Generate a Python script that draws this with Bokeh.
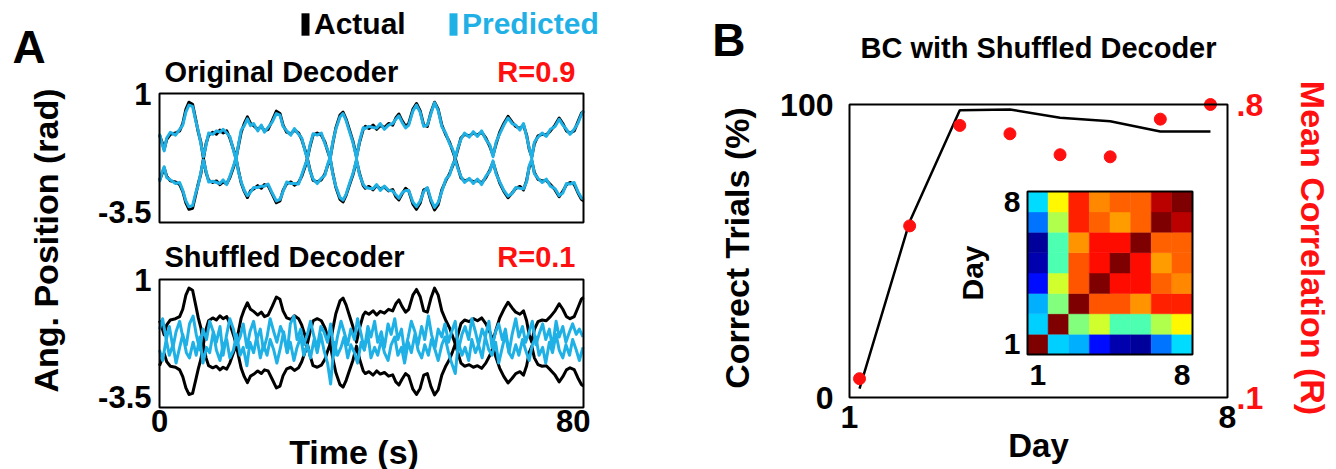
import math
from bokeh.plotting import figure
from bokeh.layouts import row, column
from bokeh.models import (Range1d, LinearAxis, FixedTicker, LinearColorMapper,
                          ColumnDataSource, Legend, LegendItem)
from bokeh.core.properties import value
from bokeh.transform import transform
from bokeh.embed import file_html
from bokeh.resources import INLINE

FONT = "Liberation Sans"
BLUE = "#1fb1e6"
RED = "#ff1010"

# ---------------- Panel A data (time s, angular position rad) ----------------
time_lim = [0.0, 82.0]
pos_lim = [-3.9, 1.0]
time_ticks = [0, 80]
pos_ticks = [-3.5, 1]

actual_upper = [(0.0,-0.58),(0.5,-0.85),(0.9,-1.12),(1.4,-0.74),(2.1,-0.55),(3.1,-0.50),(3.9,-0.42),(4.5,-0.14),(5.1,0.40),(5.7,0.67),(6.4,0.59),(7.0,0.02),(7.5,-0.47),(8.0,-0.85),(8.5,-1.47),(9.0,-0.91),(9.5,-0.58),(10.3,-0.47),(11.0,-0.55),(11.7,-0.39),(12.3,-0.50),(13.0,-0.42),(13.6,-0.69),(14.4,-1.18),(14.8,-1.47),(15.3,-0.96),(15.8,-0.47),(16.4,-0.14),(17.0,0.11),(17.6,-0.14),(18.2,-0.22),(19.0,-0.36),(19.7,-0.25),(20.3,-0.42),(21.0,-0.36),(21.8,-0.03),(22.6,0.33),(23.3,0.24),(23.9,-0.20),(24.6,-0.47),(25.4,-0.53),(26.1,-0.39),(26.9,-0.50),(27.5,-0.74),(28.2,-1.18),(28.6,-1.47),(29.1,-1.02),(29.7,-0.58),(30.5,-0.50),(31.3,-0.58),(32.0,-0.85),(32.5,-1.18),(33.0,-1.47),(33.5,-0.91),(34.1,-0.31),(34.9,0.18),(35.5,0.29),(36.1,0.02),(36.7,-0.36),(37.4,-0.80),(38.1,-1.40),(38.7,-0.85),(39.4,-0.36),(39.8,-0.25),(40.5,-0.33),(41.3,-0.20),(42.0,-0.36),(42.7,-0.22),(43.5,-0.29),(44.3,-0.14),(45.1,-0.20),(45.7,0.07),(46.3,0.22),(46.9,-0.03),(47.6,-0.25),(48.2,-0.14),(49.0,0.40),(49.7,0.62),(50.4,0.35),(51.1,-0.20),(51.8,-0.25),(52.5,0.29),(53.2,0.67),(53.9,0.40),(54.6,-0.20),(55.4,-0.58),(56.1,-0.85),(56.7,-1.18),(57.2,-1.47),(57.7,-1.12),(58.3,-0.69),(59.0,-0.55),(59.9,-0.61),(60.7,-0.50),(61.5,-0.58),(62.3,-0.47),(63.1,-0.69),(63.9,-1.02),(64.5,-1.34),(65.1,-0.91),(65.8,-0.47),(66.6,-0.14),(67.4,0.13),(68.2,-0.09),(68.9,-0.25),(69.7,-0.33),(70.4,-0.20),(71.0,-0.58),(71.5,-1.12),(72.0,-1.40),(72.5,-0.91),(73.2,-0.61),(74.0,-0.55),(74.8,-0.58),(75.6,-0.42),(76.5,-0.20),(77.3,0.07),(78.0,-0.14),(78.7,-0.42),(79.4,-0.50),(80.2,-0.42),(80.9,-0.09),(81.6,0.25),(82.0,0.32)]

actual_lower = [(0.0,-2.30),(0.5,-2.05),(0.9,-1.83),(1.4,-2.15),(2.1,-2.32),(3.1,-2.36),(3.9,-2.46),(4.5,-2.72),(5.1,-3.15),(5.7,-3.40),(6.4,-3.36),(7.0,-2.85),(7.5,-2.42),(8.0,-2.05),(8.5,-1.47),(9.0,-2.00),(9.5,-2.30),(10.3,-2.38),(11.0,-2.32),(11.7,-2.46),(12.3,-2.36),(13.0,-2.43),(13.6,-2.20),(14.4,-1.75),(14.8,-1.47),(15.3,-1.95),(15.8,-2.40),(16.4,-2.72),(17.0,-2.95),(17.6,-2.70),(18.2,-2.63),(19.0,-2.50),(19.7,-2.60),(20.3,-2.46),(21.0,-2.50),(21.8,-2.82),(22.6,-3.15),(23.3,-3.08),(23.9,-2.68),(24.6,-2.42),(25.4,-2.36),(26.1,-2.48),(26.9,-2.38),(27.5,-2.15),(28.2,-1.75),(28.6,-1.47),(29.1,-1.90),(29.7,-2.30),(30.5,-2.36),(31.3,-2.28),(32.0,-2.05),(32.5,-1.75),(33.0,-1.47),(33.5,-2.00),(34.1,-2.56),(34.9,-3.02),(35.5,-3.12),(36.1,-2.86),(36.7,-2.50),(37.4,-2.10),(38.1,-1.55),(38.7,-2.05),(39.4,-2.50),(39.8,-2.60),(40.5,-2.53),(41.3,-2.66),(42.0,-2.50),(42.7,-2.62),(43.5,-2.56),(44.3,-2.70),(45.1,-2.65),(45.7,-2.92),(46.3,-3.04),(46.9,-2.82),(47.6,-2.60),(48.2,-2.70),(49.0,-3.20),(49.7,-3.40),(50.4,-3.17),(51.1,-2.66),(51.8,-2.60),(52.5,-3.10),(53.2,-3.42),(53.9,-3.22),(54.6,-2.66),(55.4,-2.30),(56.1,-2.05),(56.7,-1.75),(57.2,-1.47),(57.7,-1.80),(58.3,-2.20),(59.0,-2.32),(59.9,-2.26),(60.7,-2.36),(61.5,-2.30),(62.3,-2.40),(63.1,-2.20),(63.9,-1.90),(64.5,-1.61),(65.1,-2.00),(65.8,-2.40),(66.6,-2.72),(67.4,-2.96),(68.2,-2.78),(68.9,-2.60),(69.7,-2.53),(70.4,-2.66),(71.0,-2.30),(71.5,-1.80),(72.0,-1.56),(72.5,-2.00),(73.2,-2.26),(74.0,-2.32),(74.8,-2.30),(75.6,-2.46),(76.5,-2.66),(77.3,-2.92),(78.0,-2.72),(78.7,-2.46),(79.4,-2.38),(80.2,-2.45),(80.9,-2.76),(81.6,-3.02),(82.0,-3.08)]

pred_orig_upper = [(0.0,-0.53),(0.5,-0.91),(0.9,-1.18),(1.4,-0.69),(2.1,-0.47),(3.1,-0.58),(3.9,-0.36),(4.5,-0.20),(5.1,0.29),(5.7,0.56),(6.4,0.51),(7.0,-0.03),(7.5,-0.42),(8.0,-0.91),(8.5,-1.40),(9.0,-0.96),(9.5,-0.50),(10.3,-0.55),(11.0,-0.42),(11.7,-0.47),(12.3,-0.36),(13.0,-0.50),(13.6,-0.63),(14.4,-1.23),(14.8,-1.50),(15.3,-0.91),(15.8,-0.39),(16.4,-0.22),(17.0,0.04),(17.6,-0.22),(18.2,-0.14),(19.0,-0.42),(19.7,-0.20),(20.3,-0.47),(21.0,-0.29),(21.8,-0.09),(22.6,0.24),(23.3,0.18),(23.9,-0.25),(24.6,-0.42),(25.4,-0.58),(26.1,-0.33),(26.9,-0.55),(27.5,-0.69),(28.2,-1.23),(28.6,-1.45),(29.1,-0.96),(29.7,-0.53),(30.5,-0.58),(31.3,-0.50),(32.0,-0.91),(32.5,-1.12),(33.0,-1.50),(33.5,-0.85),(34.1,-0.36),(34.9,0.11),(35.5,0.24),(36.1,-0.03),(36.7,-0.42),(37.4,-0.85),(38.1,-1.45),(38.7,-0.80),(39.4,-0.30),(39.8,-0.33),(40.5,-0.25),(41.3,-0.29),(42.0,-0.31),(42.7,-0.14),(43.5,-0.36),(44.3,-0.20),(45.1,-0.14),(45.7,0.02),(46.3,0.15),(46.9,-0.09),(47.6,-0.31),(48.2,-0.20),(49.0,0.33),(49.7,0.56),(50.4,0.29),(51.1,-0.25),(51.8,-0.20),(52.5,0.24),(53.2,0.65),(53.9,0.35),(54.6,-0.25),(55.4,-0.53),(56.1,-0.91),(56.7,-1.12),(57.2,-1.45),(57.7,-1.07),(58.3,-0.74),(59.0,-0.50),(59.9,-0.66),(60.7,-0.45),(61.5,-0.63),(62.3,-0.42),(63.1,-0.74),(63.9,-0.96),(64.5,-1.40),(65.1,-0.85),(65.8,-0.53),(66.6,-0.20),(67.4,0.07),(68.2,-0.14),(68.9,-0.20),(69.7,-0.39),(70.4,-0.14),(71.0,-0.63),(71.5,-1.07),(72.0,-1.45),(72.5,-0.85),(73.2,-0.66),(74.0,-0.50),(74.8,-0.63),(75.6,-0.36),(76.5,-0.25),(77.3,0.02),(78.0,-0.20),(78.7,-0.36),(79.4,-0.55),(80.2,-0.36),(80.9,-0.14),(81.6,0.20),(82.0,0.35)]

pred_orig_lower = [(0.0,-2.36),(0.5,-2.00),(0.9,-1.78),(1.4,-2.20),(2.1,-2.28),(3.1,-2.42),(3.9,-2.38),(4.5,-2.68),(5.1,-3.08),(5.7,-3.30),(6.4,-3.26),(7.0,-2.78),(7.5,-2.47),(8.0,-2.00),(8.5,-1.53),(9.0,-1.95),(9.5,-2.36),(10.3,-2.33),(11.0,-2.38),(11.7,-2.42),(12.3,-2.28),(13.0,-2.46),(13.6,-2.15),(14.4,-1.70),(14.8,-1.42),(15.3,-2.00),(15.8,-2.36),(16.4,-2.68),(17.0,-2.88),(17.6,-2.75),(18.2,-2.57),(19.0,-2.57),(19.7,-2.52),(20.3,-2.52),(21.0,-2.44),(21.8,-2.78),(22.6,-3.08),(23.3,-3.02),(23.9,-2.72),(24.6,-2.36),(25.4,-2.42),(26.1,-2.42),(26.9,-2.44),(27.5,-2.10),(28.2,-1.70),(28.6,-1.50),(29.1,-1.95),(29.7,-2.25),(30.5,-2.42),(31.3,-2.22),(32.0,-2.10),(32.5,-1.70),(33.0,-1.42),(33.5,-2.05),(34.1,-2.52),(34.9,-2.95),(35.5,-3.05),(36.1,-2.82),(36.7,-2.45),(37.4,-2.05),(38.1,-1.50),(38.7,-2.10),(39.4,-2.45),(39.8,-2.56),(40.5,-2.60),(41.3,-2.62),(42.0,-2.46),(42.7,-2.68),(43.5,-2.52),(44.3,-2.68),(45.1,-2.70),(45.7,-2.85),(46.3,-2.98),(46.9,-2.78),(47.6,-2.68),(48.2,-2.68),(49.0,-3.12),(49.7,-3.30),(50.4,-3.10),(51.1,-2.72),(51.8,-2.57),(52.5,-3.03),(53.2,-3.33),(53.9,-3.14),(54.6,-2.72),(55.4,-2.25),(56.1,-2.10),(56.7,-1.70),(57.2,-1.53),(57.7,-1.85),(58.3,-2.15),(59.0,-2.38),(59.9,-2.22),(60.7,-2.42),(61.5,-2.25),(62.3,-2.46),(63.1,-2.15),(63.9,-1.95),(64.5,-1.56),(65.1,-2.05),(65.8,-2.36),(66.6,-2.68),(67.4,-2.90),(68.2,-2.80),(68.9,-2.57),(69.7,-2.60),(70.4,-2.62),(71.0,-2.36),(71.5,-1.75),(72.0,-1.50),(72.5,-2.05),(73.2,-2.22),(74.0,-2.38),(74.8,-2.25),(75.6,-2.52),(76.5,-2.62),(77.3,-2.88),(78.0,-2.78),(78.7,-2.42),(79.4,-2.44),(80.2,-2.38),(80.9,-2.72),(81.6,-2.96),(82.0,-3.02)]

t_shuf = [0.0, 0.6, 1.3, 1.9, 2.6, 3.2, 3.9, 4.5, 5.2, 5.8,
          6.5, 7.1, 7.8, 8.4, 9.1, 9.7, 10.4, 11.0, 11.7, 12.3,
          13.0, 13.6, 14.3, 14.9, 15.6, 16.2, 16.9, 17.5, 18.2, 18.8,
          19.5, 20.1, 20.8, 21.4, 22.1, 22.7, 23.4, 24.0, 24.7, 25.3,
          26.0, 26.6, 27.3, 27.9, 28.6, 29.2, 29.9, 30.5, 31.2, 31.8,
          32.5, 33.1, 33.8, 34.4, 35.1, 35.7, 36.4, 37.0, 37.7, 38.3,
          39.0, 39.6, 40.3, 40.9, 41.6, 42.2, 42.9, 43.5, 44.2, 44.8,
          45.5, 46.1, 46.8, 47.4, 48.1, 48.7, 49.4, 50.0, 50.7, 51.3,
          52.0, 52.6, 53.3, 53.9, 54.6, 55.2, 55.9, 56.5, 57.2, 57.8,
          58.5, 59.1, 59.8, 60.4, 61.1, 61.7, 62.4, 63.0, 63.7, 64.3,
          65.0, 65.6, 66.3, 66.9, 67.6, 68.2, 68.9, 69.5, 70.2, 70.8,
          71.5, 72.1, 72.8, 73.4, 74.1, 74.7, 75.4, 76.0, 76.7, 77.3,
          78.0, 78.6, 79.3, 79.9, 80.6, 81.2, 81.9]

pred_shuf_a = [-0.9, -0.5, -1.3, -0.8, -1.6, -1.0, -0.6, -1.2, -1.5, -0.7,
               -0.4, -1.1, -1.7, -0.9, -1.3, -0.6, -1.0, -1.4, -0.8, -1.9,
               -1.1, -0.5, -0.9, -1.5, -1.2, -0.7, -1.6, -1.0, -0.6, -1.3,
               -0.9, -1.7, -1.2, -0.5, -1.0, -1.4, -0.8, -1.1, -1.8, -0.7,
               -0.4, -1.3, -0.9, -1.5, -1.1, -0.6, -1.2, -1.6, -0.8, -1.0,
               -1.4, -0.7, -1.9, -1.2, -0.6, -1.0, -1.5, -0.9, -1.3, -0.5,
               -1.1, -1.7, -0.8, -1.2, -0.6, -1.4, -1.0, -1.6, -0.7, -1.1,
               -0.5, -1.3, -0.9, -1.8, -1.2, -0.6, -1.0, -1.5, -0.8, -1.3,
               -0.4, -1.1, -1.6, -0.9, -1.2, -0.7, -1.4, -1.0, -0.6, -1.7,
               -1.1, -0.8, -1.3, -0.5, -1.0, -1.5, -0.9, -1.2, -0.6, -1.6,
               -1.0, -0.7, -1.3, -0.9, -1.8, -1.1, -0.5, -1.2, -0.8, -1.4,
               -1.0, -0.6, -1.5, -1.1, -0.7, -1.3, -0.9, -1.6, -0.6, -1.2,
               -0.8, -1.4, -1.0, -0.7, -1.1, -0.9, -1.2]

pred_shuf_b = [-1.7, -2.1, -1.3, -1.9, -1.5, -2.2, -1.6, -1.1, -1.8, -2.0,
               -1.4, -1.9, -1.2, -2.2, -1.6, -1.8, -1.0, -1.7, -2.1, -1.5,
               -1.3, -2.0, -1.7, -1.1, -1.9, -1.6, -2.3, -1.4, -1.8, -1.2,
               -2.0, -1.5, -1.9, -1.3, -1.7, -2.2, -1.6, -1.0, -1.8, -1.4,
               -2.1, -1.6, -1.2, -1.9, -1.5, -2.0, -1.3, -1.8, -1.1, -1.7,
               -2.2, -3.0, -1.4, -1.9, -1.6, -1.2, -2.0, -1.5, -1.8, -2.2,
               -1.4, -1.7, -1.1, -2.0, -1.6, -1.9, -1.3, -1.8, -2.1, -1.5,
               -1.2, -1.9, -1.6, -2.2, -1.4, -1.8, -1.1, -1.7, -2.0, -1.5,
               -1.9, -1.3, -1.7, -2.1, -1.5, -1.2, -1.8, -2.2, -2.6, -1.4,
               -1.9, -1.6, -2.1, -1.3, -1.8, -1.5, -2.0, -1.2, -1.7, -1.9,
               -1.4, -2.2, -1.6, -1.1, -1.8, -2.0, -1.5, -1.9, -1.3, -1.7,
               -2.1, -1.5, -1.2, -1.9, -1.6, -2.2, -1.4, -1.8, -1.1, -1.7,
               -2.0, -1.5, -1.9, -1.3, -1.7, -2.1, -1.6]

# ---------------- Panel B data ----------------
days = [1, 2, 3, 4, 5, 6, 7, 8]
day_lim = [0.8, 8.34]
pct_lim = [0, 100]
corr_lim = [0.1, 0.8]
correct_pct = [3, 60, 98, 98.3, 95.5, 94.3, 90.8, 90.8]
mean_corr = [0.145, 0.51, 0.75, 0.73, 0.68, 0.675, 0.765, 0.80]
corr_matrix = [
    [1.00, 0.33, 0.30, 0.14, 0.05, 0.03, 0.24, 0.34],
    [0.33, 1.00, 0.50, 0.58, 0.45, 0.45, 0.55, 0.63],
    [0.30, 0.50, 1.00, 0.79, 0.79, 0.73, 0.84, 0.84],
    [0.14, 0.58, 0.79, 1.00, 0.86, 0.86, 0.78, 0.74],
    [0.05, 0.45, 0.79, 0.86, 1.00, 0.86, 0.72, 0.78],
    [0.03, 0.45, 0.73, 0.86, 0.86, 1.00, 0.78, 0.78],
    [0.24, 0.55, 0.84, 0.78, 0.72, 0.78, 1.00, 0.94],
    [0.34, 0.63, 0.84, 0.74, 0.78, 0.78, 0.94, 1.00],
]


def jet_palette(n=256):
    cols = []
    for k in range(n):
        x = k / (n - 1)
        r = min(max(1.5 - abs(4 * x - 3), 0), 1)
        g = min(max(1.5 - abs(4 * x - 2), 0), 1)
        b = min(max(1.5 - abs(4 * x - 1), 0), 1)
        cols.append("#%02x%02x%02x" % (int(r * 255), int(g * 255), int(b * 255)))
    return cols


def lin(p0, v0, p1, v1):
    """page pixel -> data value map (layout helper)"""
    k = (v1 - v0) / (p1 - p0)
    return lambda p: v0 + (p - p0) * k


def put_text(p, x, y, s, size, color="black", align="left", baseline="middle",
             angle=0.0, **kw):
    p.text(x=[x], y=[y], text=[s], text_font=value(FONT), text_font_style="bold",
           text_font_size=size, text_color=color, text_align=align,
           text_baseline=baseline, angle=angle, **kw)


def style_axis(ax, size="32px", color="black", standoff=6):
    ax.major_label_text_font = FONT
    ax.major_label_text_font_style = "bold"
    ax.major_label_text_font_size = size
    ax.major_label_text_color = color
    ax.major_tick_line_color = None
    ax.minor_tick_line_color = None
    ax.major_tick_out = 0
    ax.major_tick_in = 0
    ax.axis_line_color = None
    ax.major_label_standoff = standoff


def axis_title(ax, text, size, color="black", standoff=5):
    ax.axis_label = text
    ax.axis_label_text_font = FONT
    ax.axis_label_text_font_style = "bold"
    ax.axis_label_text_font_size = size
    ax.axis_label_text_color = color
    ax.axis_label_standoff = standoff


def base_fig(**kw):
    p = figure(output_backend="svg", toolbar_location=None, **kw)
    p.grid.visible = False
    p.outline_line_color = None
    p.background_fill_color = "white"
    p.border_fill_color = "white"
    return p


H = 469    # total layout height (page y 0..469)
A_SPLIT = 240  # page y where the top panel-A figure ends and the bottom one starts

# ---------------- left label strip (page x 0..78) ----------------
pL = base_fig(frame_width=78, frame_height=H, x_range=Range1d(0, 78), y_range=Range1d(0, H),
              min_border=0, x_axis_location=None, y_axis_location=None)
put_text(pL, 12, H - 46, "A", "46px")
put_text(pL, 45, H - 240, "Ang. Position (rad)", "34px", align="center", angle=math.pi / 2)

# ---------------- Panel A top: original decoder (page x 78..618, y 0..A_SPLIT) ----------------
fx = lin(159, time_lim[0], 583, time_lim[1])
fy1 = lin(93, pos_lim[1], 222, pos_lim[0])
fy2 = lin(279, pos_lim[1], 407, pos_lim[0])

pA1 = base_fig(frame_width=461, frame_height=A_SPLIT, x_range=Range1d(fx(157), fx(618)),
               y_range=Range1d(fy1(A_SPLIT), fy1(0)), x_axis_location=None,
               min_border_left=79, min_border_right=0, min_border_top=0, min_border_bottom=0)
pA1.line([t for t, _ in actual_upper], [v for _, v in actual_upper], color="black", line_width=3, line_join="round")
pA1.line([t for t, _ in actual_lower], [v for _, v in actual_lower], color="black", line_width=3, line_join="round")
pA1.line([t for t, _ in pred_orig_upper], [v for _, v in pred_orig_upper], color=BLUE, line_width=3, line_join="round")
pA1.line([t for t, _ in pred_orig_lower], [v for _, v in pred_orig_lower], color=BLUE, line_width=3, line_join="round")
pA1.quad(left=[time_lim[0]], right=[time_lim[1]], bottom=[pos_lim[0]], top=[pos_lim[1]],
         fill_color=None, line_color="black", line_width=2)
pA1.yaxis.ticker = FixedTicker(ticks=pos_ticks)
pA1.yaxis.major_label_overrides = {1: "1", -3.5: "-3.5"}
style_axis(pA1.yaxis[0], "31px", standoff=6)
put_text(pA1, fx(164), fy1(71), "Original Decoder", "29px")
put_text(pA1, fx(575), fy1(71), "R=0.9", "29px", color=RED, align="right")

# legend (Actual / Predicted) with bar swatches
r_act = pA1.vbar(x=[time_lim[0]], bottom=[pos_lim[0]], top=[pos_lim[0]], width=0,
                 fill_color="black", line_alpha=0)
r_pred = pA1.vbar(x=[time_lim[0]], bottom=[pos_lim[0]], top=[pos_lim[0]], width=0,
                  fill_color=BLUE, line_alpha=0)
for item_label, rend, col, px in [("Actual", r_act, "black", 300), ("Predicted", r_pred, BLUE, 448)]:
    leg = Legend(items=[LegendItem(label=item_label, renderers=[rend])],
                 location=(px - 157, A_SPLIT - 41), orientation="horizontal",
                 glyph_width=10, glyph_height=28, label_standoff=4, padding=0, margin=0,
                 spacing=0, border_line_color=None, background_fill_alpha=0,
                 label_text_font=FONT, label_text_font_style="bold",
                 label_text_font_size="30px", label_text_color=col)
    pA1.add_layout(leg)

# ---------------- Panel A bottom: shuffled decoder (page x 78..618, y A_SPLIT..469) ----------------
pA2 = base_fig(frame_width=461, frame_height=409 - A_SPLIT, x_range=Range1d(fx(157), fx(618)),
               y_range=Range1d(fy2(409), fy2(A_SPLIT)),
               min_border_left=79, min_border_right=0, min_border_top=0, min_border_bottom=H - 409)
pA2.line([t for t, _ in actual_upper], [v for _, v in actual_upper], color="black", line_width=3, line_join="round")
pA2.line([t for t, _ in actual_lower], [v for _, v in actual_lower], color="black", line_width=3, line_join="round")
pA2.line(t_shuf, pred_shuf_a, color=BLUE, line_width=3, line_join="round")
pA2.line(t_shuf, pred_shuf_b, color=BLUE, line_width=3, line_join="round")
pA2.quad(left=[time_lim[0]], right=[time_lim[1]], bottom=[pos_lim[0]], top=[pos_lim[1]],
         fill_color=None, line_color="black", line_width=2)
pA2.yaxis.ticker = FixedTicker(ticks=pos_ticks)
pA2.yaxis.major_label_overrides = {1: "1", -3.5: "-3.5"}
pA2.xaxis.ticker = FixedTicker(ticks=time_ticks)
style_axis(pA2.yaxis[0], "31px", standoff=6)
style_axis(pA2.xaxis[0], "31px", standoff=0)
# trailing em spaces shift the centred axis title left over the tick span
axis_title(pA2.xaxis[0], "Time (s)\u2003\u2003", "34px", standoff=-2)
put_text(pA2, fx(164), fy2(256), "Shuffled Decoder", "29px")
put_text(pA2, fx(575), fy2(256), "R=0.1", "29px", color=RED, align="right")

# ---------------- Panel B title strip (page x 618..1334, y 0..78) ----------------
tB = base_fig(frame_width=382, frame_height=78, x_range=Range1d(0, 382), y_range=Range1d(0, 78),
              min_border_left=229, min_border_right=105, min_border_top=0, min_border_bottom=0,
              x_axis_location=None)
bax = tB.yaxis[0]
bax.ticker = FixedTicker(ticks=[])
style_axis(bax, "32px", standoff=0)
axis_title(bax, "B", "46px", standoff=102)
bax.axis_label_orientation = "horizontal"
put_text(tB, 1038 - 847, 78 - 47, "BC with Shuffled Decoder", "29px", align="center")

# ---------------- Panel B (page x 618..1334, y 78..469) ----------------
bx = lin(849, day_lim[0], 1227, day_lim[1])
by = lin(104, pct_lim[1], 397, pct_lim[0])
br = lin(104, corr_lim[1], 397, corr_lim[0])
hxm = lin(1027, days[0] - 0.5, 1192, days[-1] + 0.5)
hym = lin(354, days[0] - 0.5, 191, days[-1] + 0.5)

pB = base_fig(frame_width=382, frame_height=303, x_range=Range1d(bx(847), bx(1229)),
              y_range=Range1d(by(399), by(96)),
              min_border_left=229, min_border_right=105, min_border_top=18, min_border_bottom=H - 399)
pB.extra_y_ranges = {"r": Range1d(br(399), br(96)), "hy": Range1d(hym(399), hym(96))}
pB.extra_x_ranges = {"hx": Range1d(hxm(847), hxm(1229))}

left_ax = pB.yaxis[0]
left_ax.ticker = FixedTicker(ticks=pct_lim)
left_ax.major_label_overrides = {0: "0", 100: "100"}
style_axis(left_ax, "32px", standoff=14)
axis_title(left_ax, "Correct Trials (%)", "34px", standoff=21)

pB.xaxis.ticker = FixedTicker(ticks=day_lim)
pB.xaxis.major_label_overrides = {day_lim[0]: "1", day_lim[1]: "8"}
style_axis(pB.xaxis[0], "32px", standoff=6)
axis_title(pB.xaxis[0], "Day", "33px", standoff=-4)

raxis = LinearAxis(y_range_name="r", ticker=FixedTicker(ticks=corr_lim),
                   major_label_overrides={corr_lim[0]: ".1", corr_lim[1]: ".8"})
style_axis(raxis, "32px", color=RED, standoff=7)
axis_title(raxis, "Mean Correlation (R)", "34px", color=RED, standoff=28)
pB.add_layout(raxis, "right")

pB.line(days, correct_pct, color="black", line_width=2.5)
pB.scatter(days, mean_corr, y_range_name="r", size=12, color=RED)

# inset: day-by-day correlation matrix
hxv, hyv, hval = [], [], []
for i, rowvals in enumerate(corr_matrix):
    for j, v in enumerate(rowvals):
        hxv.append(days[j])
        hyv.append(days[i])
        hval.append(v)
hsrc = ColumnDataSource(dict(x=hxv, y=hyv, v=hval))
mapper = LinearColorMapper(palette=jet_palette(), low=0.0, high=1.0)
pB.rect(x="x", y="y", width=1, height=1, source=hsrc, x_range_name="hx", y_range_name="hy",
        fill_color=transform("v", mapper), line_color=transform("v", mapper), line_width=0.5)
pB.quad(left=[days[0] - 0.5], right=[days[-1] + 0.5], bottom=[days[0] - 0.5],
        top=[days[-1] + 0.5], fill_color=None, line_color="black", line_width=2,
        x_range_name="hx", y_range_name="hy")
for d in (days[0], days[-1]):
    put_text(pB, hxm(1020), d, str(d), "30px", align="right",
             x_range_name="hx", y_range_name="hy")
    put_text(pB, d, hym(374), str(d), "30px", align="center",
             x_range_name="hx", y_range_name="hy")
put_text(pB, hxm(972), (days[0] + days[-1]) / 2, "Day", "30px", align="center",
         angle=math.pi / 2, x_range_name="hx", y_range_name="hy")

# main box
pB.quad(left=[day_lim[0]], right=[day_lim[1]], bottom=[pct_lim[0]], top=[pct_lim[1]],
        fill_color=None, line_color="black", line_width=2)

layout = row(pL, column(pA1, pA2), column(tB, pB))
open("out.html", "w").write(file_html(layout, INLINE))
